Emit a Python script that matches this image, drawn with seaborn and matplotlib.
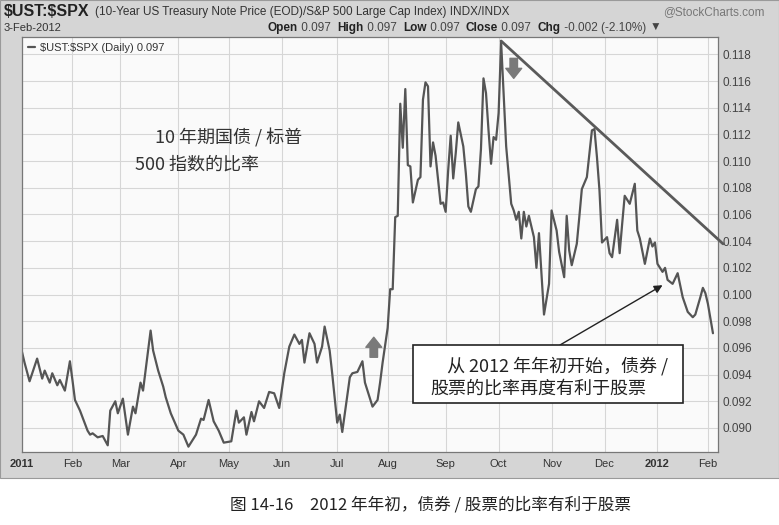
import matplotlib
matplotlib.use("Agg")
import numpy as np
import pandas as pd
import seaborn as sns
import matplotlib.pyplot as plt
from matplotlib.patches import Rectangle

# trading-day number (0 = 3 Jan 2011) and $UST:$SPX ratio
day = [0, 1, 3, 6, 8, 9, 11, 12, 14, 15, 17, 19, 20, 21, 23, 26, 27, 28, 30, 32,
       34, 35, 37, 38, 40, 42, 44, 45, 47, 48, 51, 52, 54, 56, 57, 59, 62, 64, 66, 69,
       71, 72, 74, 76, 78, 80, 83, 85, 86, 88, 89, 91, 92, 94, 96, 98, 100, 102, 104, 106,
       108, 110, 111, 112, 114, 116, 117, 119, 120, 122, 123, 125, 126, 127, 130, 131, 133, 135, 136, 137,
       139, 141, 142, 143, 145, 146, 147, 148, 149, 150, 151, 152, 153, 154, 155, 157, 158, 159, 160, 161,
       162, 163, 164, 166, 167, 168, 169, 170, 171, 172, 173, 175, 176, 177, 178, 180, 181, 182, 183, 184,
       185, 186, 187, 188, 189, 190, 192, 194, 195, 196, 197, 198, 199, 200, 201, 203, 204, 205, 207, 209,
       210, 212, 213, 215, 216, 217, 218, 220, 221, 222, 224, 226, 227, 228, 229, 230, 232, 233, 234, 236,
       237, 238, 239, 241, 243, 244, 245, 247, 249, 250, 251, 252, 254, 255, 256, 258, 260, 262, 264, 266,
       267, 269, 270, 271, 272, 274]
ratio = [0.0957, 0.0949, 0.0935, 0.0952, 0.0937, 0.0943, 0.0934, 0.0941, 0.0932, 0.0936,
         0.0928, 0.0950, 0.0936, 0.0921, 0.0913, 0.0898, 0.0895, 0.0896, 0.0893, 0.0894,
         0.0887, 0.0913, 0.0920, 0.0911, 0.0922, 0.0895, 0.0916, 0.0911, 0.0934, 0.0928,
         0.0973, 0.0958, 0.0943, 0.0931, 0.0923, 0.0911, 0.0898, 0.0895, 0.0886, 0.0895,
         0.0907, 0.0906, 0.0921, 0.0905, 0.0898, 0.0889, 0.0890, 0.0913, 0.0904, 0.0908,
         0.0895, 0.0912, 0.0905, 0.0920, 0.0915, 0.0927, 0.0926, 0.0915, 0.0941, 0.0961,
         0.0970, 0.0963, 0.0966, 0.0949, 0.0971, 0.0963, 0.0949, 0.0961, 0.0976, 0.0958,
         0.0941, 0.0904, 0.0910, 0.0897, 0.0938, 0.0941, 0.0942, 0.0950, 0.0934, 0.0928,
         0.0916, 0.0921, 0.0934, 0.0949, 0.0975, 0.1004, 0.1004, 0.1058, 0.1059, 0.1143,
         0.1110, 0.1154, 0.1097, 0.1096, 0.1069, 0.1086, 0.1088, 0.1146, 0.1159, 0.1156,
         0.1096, 0.1114, 0.1104, 0.1068, 0.1069, 0.1062, 0.1093, 0.1119, 0.1087, 0.1106,
         0.1129, 0.1111, 0.1091, 0.1066, 0.1062, 0.1079, 0.1081, 0.1109, 0.1162, 0.1151,
         0.1123, 0.1098, 0.1118, 0.1116, 0.1136, 0.1189, 0.1111, 0.1068, 0.1063, 0.1056,
         0.1062, 0.1042, 0.1062, 0.1051, 0.1059, 0.1043, 0.1020, 0.1046, 0.0985, 0.1008,
         0.1063, 0.1048, 0.1032, 0.1013, 0.1059, 0.1033, 0.1022, 0.1038, 0.1058, 0.1079,
         0.1088, 0.1123, 0.1124, 0.1103, 0.1078, 0.1039, 0.1043, 0.1031, 0.1028, 0.1056,
         0.1031, 0.1053, 0.1074, 0.1068, 0.1083, 0.1048, 0.1042, 0.1023, 0.1042, 0.1036,
         0.1039, 0.1023, 0.1017, 0.1020, 0.1011, 0.1008, 0.1016, 0.0998, 0.0987, 0.0983,
         0.0985, 0.0998, 0.1005, 0.1001, 0.0993, 0.0971]

# hand-drawn resistance line from the October peak
trend_day = [190, 278]
trend_val = [0.1190, 0.1038]

# NYSE holidays in the window (to rebuild the trading calendar for month ticks)
holidays = ["2011-01-17", "2011-02-21", "2011-04-22", "2011-05-30", "2011-07-04",
            "2011-09-05", "2011-11-24", "2011-12-26", "2012-01-02", "2012-01-16"]
y_ticks = [0.090, 0.092, 0.094, 0.096, 0.098, 0.100, 0.102, 0.104,
           0.106, 0.108, 0.110, 0.112, 0.114, 0.116, 0.118]

sns.set_theme(style="white")
plt.rcParams["font.family"] = ["Liberation Sans", "DejaVu Sans"]
cjk = ["Noto Sans CJK SC", "DejaVu Sans"]

W, H = 779, 525
def fx(px):
    return px / W
def fy(py):
    return 1 - py / H

# trading calendar -> first trading day of each month
dates = pd.bdate_range("2011-01-03", "2012-02-03")
dates = dates[~dates.isin(pd.to_datetime(holidays))]
pos = pd.Series(np.arange(len(dates)), index=dates)
first = pos.groupby([dates.year, dates.month]).first()
tick_pos = list(first.values)
tick_lab = [str(y) if m == 1 else pd.Timestamp(y, m, 1).strftime("%b") for (y, m) in first.index]

fig = plt.figure(figsize=(7.79, 5.25), dpi=100, facecolor="white")
fig.add_artist(Rectangle((0, fy(478)), 1, 1 - fy(478), transform=fig.transFigure,
                         facecolor="#d5d5d5", edgecolor="#9a9a9a", lw=0.8, zorder=0))

ax = fig.add_axes([fx(22), fy(452), fx(718) - fx(22), fy(37) - fy(452)])
ax.set_facecolor("#fafafa")

sns.lineplot(x=day, y=ratio, ax=ax, color="#555555", linewidth=1.6,
             estimator=None, sort=False, label="\\$UST:\\$SPX (Daily) 0.097")
ax.plot(trend_day, trend_val, color="#5a5a5a", lw=2.0, clip_on=False,
        solid_capstyle="round", zorder=4)

ax.set_xlim(0, 276)
ax.set_ylim(0.0882, 0.1193)
ax.set_xticks(tick_pos)
ax.set_xticklabels(tick_lab)
ax.set_yticks(y_ticks)
ax.set_yticklabels(["%.3f" % v for v in y_ticks])
ax.yaxis.tick_right()
ax.set_xlabel("")
ax.set_ylabel("")
ax.grid(True, color="#d6d6d6", linewidth=0.8)
ax.tick_params(axis="x", length=0, labelsize=8, colors="#333333", pad=5)
ax.tick_params(axis="y", length=0, labelsize=8.5, colors="#444444", pad=3)
for t in ax.get_xticklabels():
    if t.get_text().isdigit():
        t.set_fontweight("bold")
for s in ax.spines.values():
    s.set_color("#777777")
    s.set_linewidth(0.9)

ax.legend(loc="upper left", frameon=False, fontsize=8, handlelength=0.7,
          handletextpad=0.4, borderaxespad=0.1, labelcolor="#333333")

# block arrows marking the turns
block = "simple,head_length=0.6,head_width=0.95,tail_width=0.45"
ax.annotate("", xy=(139.5, 0.0968), xytext=(139.5, 0.0953),
            arrowprops=dict(arrowstyle=block, color="#7a7a7a", shrinkA=0, shrinkB=0))
ax.annotate("", xy=(195, 0.1162), xytext=(195, 0.1177),
            arrowprops=dict(arrowstyle=block, color="#7a7a7a", shrinkA=0, shrinkB=0))

# header
fig.text(fx(4), fy(12), "\\$UST:\\$SPX", weight="bold", size=11.5, va="center", color="#222222")
fig.text(fx(95), fy(12), "(10-Year US Treasury Note Price (EOD)/S&P 500 Large Cap Index) INDX/INDX",
         size=8.5, va="center", color="#333333")
fig.text(fx(765), fy(12), "@StockCharts.com", size=8.5, va="center", ha="right", color="#777777")
fig.text(fx(4), fy(28), "3-Feb-2012", size=8, va="center", color="#333333")

parts = [("Open", True), (" 0.097  ", False), ("High", True), (" 0.097  ", False),
         ("Low", True), (" 0.097  ", False), ("Close", True), (" 0.097  ", False),
         ("Chg", True), (" -0.002 (-2.10%) ", False), ("\u25bc", False)]
prev = None
for txt, bold in parts:
    kw = dict(size=8.5, weight="bold" if bold else "normal", color="#222222" if bold else "#444444",
              va="bottom", ha="left", annotation_clip=False)
    if prev is None:
        prev = ax.annotate(txt, xy=(fx(268), fy(34)), xycoords="figure fraction", **kw)
    else:
        prev = ax.annotate(txt, xy=(1, 0), xycoords=prev, **kw)

# notes
fig.text(fx(155), fy(138), "10 年期国债 / 标普", family=cjk, size=13, va="center", color="#333333")
fig.text(fx(135), fy(165), "500 指数的比率", family=cjk, size=13, va="center", color="#333333")

fig.add_artist(Rectangle((fx(413), fy(403)), fx(683) - fx(413), fy(345) - fy(403),
                         transform=fig.transFigure, facecolor="white", edgecolor="#222222",
                         lw=1.2, zorder=5))
fig.text(fx(447), fy(366), "从 2012 年年初开始，债券 /", family=cjk, size=13, va="center",
         color="#222222", zorder=6)
fig.text(fx(430), fy(389), "股票的比率再度有利于股票", family=cjk, size=13, va="center",
         color="#222222", zorder=6)
ax.annotate("", xy=(254, 0.1007), xycoords="data", xytext=(fx(560), fy(345)),
            textcoords="figure fraction", annotation_clip=False,
            arrowprops=dict(arrowstyle="-|>", color="#222222", lw=1.0, mutation_scale=12,
                            shrinkA=0, shrinkB=0))

# caption
fig.text(fx(431), fy(505), "图 14-16\u30002012 年年初，债券 / 股票的比率有利于股票",
         family=cjk, size=12, ha="center", va="center", color="#222222")

fig.savefig("out.png", dpi=100, facecolor=fig.get_facecolor())
